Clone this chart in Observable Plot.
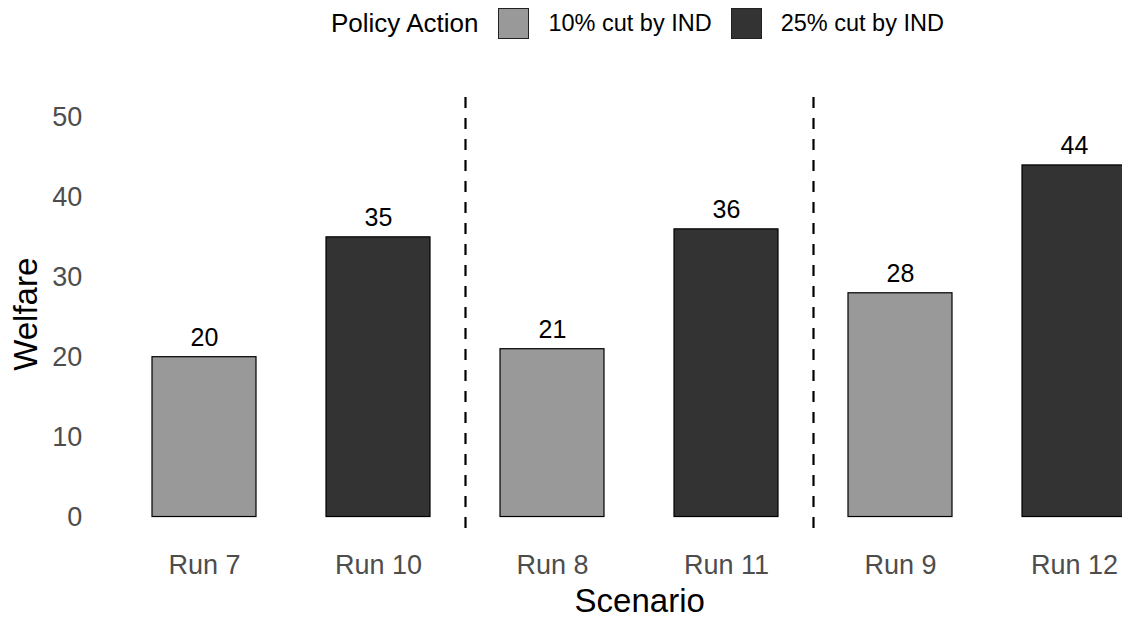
<!DOCTYPE html>
<html>
<head>
<meta charset="utf-8">
<script src="https://cdn.jsdelivr.net/npm/d3@7"></script>
<script src="https://cdn.jsdelivr.net/npm/@observablehq/plot@0.6"></script>
<style>
  body { margin: 0; background: #fff; font-family: "Liberation Sans", Arial, sans-serif; }
  #chart { position: relative; width: 1122px; height: 621px; overflow: hidden; background: #fff; }
  .legend { position: absolute; left: 331px; top: 8px; height: 31px; display: flex; align-items: center; white-space: nowrap; color: #000; }
  .legend .ltitle { font-size: 26px; margin-right: 20px; }
  .legend .key { width: 29px; height: 29px; border: 1px solid #222; margin-right: 19px; box-sizing: content-box; }
  .legend .lab { font-size: 23.5px; margin-right: 19px; }
  #plot { position: absolute; left: 0; top: 48px; }
</style>
</head>
<body>
<div id="chart">
  <div class="legend" id="legend"></div>
  <div id="plot"></div>
</div>
<script>
// Scenario runs, in display order
const runs = ["Run 7", "Run 10", "Run 8", "Run 11", "Run 9", "Run 12"];
// Policy action applied in each run
const actions = ["10% cut by IND", "25% cut by IND", "10% cut by IND", "25% cut by IND", "10% cut by IND", "25% cut by IND"];
// Welfare outcome per run
const welfare = [20, 35, 21, 36, 28, 44];
// Legend levels and their fills
const policyLevels = ["10% cut by IND", "25% cut by IND"];
const policyColors = ["#999999", "#333333"];
const yTicks = [0, 10, 20, 30, 40, 50];
// First run of each later scenario group; a dashed divider precedes it
const groupStarts = ["Run 8", "Run 9"];

const data = runs.map((run, i) => ({run, action: actions[i], welfare: welfare[i]}));

const width = 1122, height = 573;
const marginLeft = 99.8, marginRight = -56.6, marginTop = 49, marginBottom = 84.5;
const paddingInner = 0.4, paddingOuter = 0.3;
const step = (width - marginRight - marginLeft) / (runs.length - paddingInner + 2 * paddingOuter);

const font = "Liberation Sans, Arial, sans-serif";

const chart = Plot.plot({
  width, height, marginLeft, marginRight, marginTop, marginBottom,
  style: {fontFamily: font, background: "white", overflow: "hidden"},
  x: {domain: runs, paddingInner, paddingOuter, align: 0.5, label: null},
  y: {domain: [-2.5, 52.5], label: null},
  color: {domain: policyLevels, range: policyColors},
  marks: [
    Plot.barY(data, {x: "run", y: "welfare", fill: "action", stroke: "black", strokeWidth: 1.2}),
    Plot.text(data, {x: "run", y: "welfare", text: d => String(d.welfare), lineAnchor: "bottom", dy: -11, fontSize: 25, fill: "black"}),
    Plot.ruleX(groupStarts, {x: d => d, dx: -step / 2, stroke: "black", strokeWidth: 2.2, strokeDasharray: "11,10"}),
    Plot.axisY(yTicks, {tickSize: 0, tickPadding: 18, fontSize: 27, fill: "#4d4d4d", label: null}),
    Plot.axisX({tickSize: 0, tickPadding: 18, fontSize: 27, fill: "#4d4d4d", label: null}),
    Plot.text(["Welfare"], {frameAnchor: "left", rotate: -90, dx: -63, dy: -3, textAnchor: "middle", lineAnchor: "bottom", fontSize: 33, fill: "black"}),
    Plot.text(["Scenario"], {frameAnchor: "bottom", textAnchor: "middle", lineAnchor: "bottom", dy: 75, fontSize: 33, fill: "black"})
  ]
});
document.getElementById("plot").appendChild(chart);

// Legend: title followed by one swatch + label per policy level
const legend = document.getElementById("legend");
const title = document.createElement("span");
title.className = "ltitle";
title.textContent = "Policy Action";
legend.appendChild(title);
const colorScale = chart.scale("color");
colorScale.domain.forEach((level, i) => {
  const key = document.createElement("span");
  key.className = "key";
  key.style.background = colorScale.range[i];
  legend.appendChild(key);
  const lab = document.createElement("span");
  lab.className = "lab";
  lab.textContent = level;
  legend.appendChild(lab);
});
</script>
</body>
</html>
